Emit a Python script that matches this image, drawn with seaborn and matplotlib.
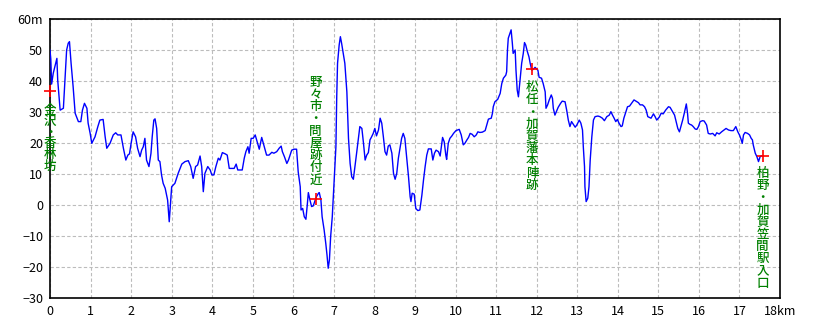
import matplotlib
matplotlib.use("Agg")
import matplotlib.pyplot as plt
import seaborn as sns
import pandas as pd

# ---- data (distance in km, elevation in m) ----
dist_km = [
    0.00, 0.02, 0.04, 0.08, 0.12, 0.17, 0.19, 0.25, 0.33, 0.37, 0.41, 0.45, 0.48, 0.52, 0.57, 0.62,
    0.70, 0.76, 0.80, 0.85, 0.91, 0.94, 0.99, 1.03, 1.11, 1.18, 1.23, 1.31, 1.36, 1.40, 1.48, 1.56,
    1.62, 1.67, 1.75, 1.81, 1.87, 1.92, 1.96, 2.00, 2.05, 2.11, 2.16, 2.22, 2.26, 2.30, 2.34, 2.38,
    2.44, 2.49, 2.52, 2.56, 2.59, 2.63, 2.67, 2.71, 2.75, 2.79, 2.84, 2.90, 2.94, 3.00, 3.08, 3.16,
    3.25, 3.33, 3.41, 3.47, 3.53, 3.59, 3.64, 3.70, 3.74, 3.78, 3.82, 3.89, 3.95, 3.99, 4.04, 4.09,
    4.15, 4.19, 4.25, 4.32, 4.37, 4.42, 4.54, 4.59, 4.63, 4.74, 4.79, 4.83, 4.88, 4.91, 4.96, 5.01,
    5.06, 5.12, 5.16, 5.22, 5.27, 5.34, 5.40, 5.47, 5.52, 5.59, 5.65, 5.70, 5.73, 5.78, 5.84, 5.88,
    5.92, 5.96, 6.02, 6.08, 6.12, 6.17, 6.19, 6.23, 6.27, 6.31, 6.34, 6.37, 6.41, 6.45, 6.49, 6.54,
    6.58, 6.62, 6.64, 6.68, 6.71, 6.76, 6.80, 6.83, 6.86, 6.89, 6.92, 6.96, 7.01, 7.05, 7.07, 7.09,
    7.13, 7.16, 7.19, 7.23, 7.27, 7.32, 7.36, 7.40, 7.44, 7.48, 7.52, 7.56, 7.60, 7.64, 7.69, 7.73,
    7.77, 7.81, 7.85, 7.89, 7.93, 7.97, 8.01, 8.05, 8.10, 8.14, 8.18, 8.22, 8.26, 8.30, 8.34, 8.38,
    8.43, 8.47, 8.51, 8.55, 8.59, 8.63, 8.67, 8.71, 8.75, 8.80, 8.84, 8.88, 8.90, 8.93, 8.98, 9.02,
    9.07, 9.12, 9.17, 9.21, 9.25, 9.29, 9.33, 9.40, 9.44, 9.48, 9.52, 9.58, 9.62, 9.66, 9.68, 9.72,
    9.76, 9.78, 9.82, 9.86, 9.91, 9.95, 10.01, 10.05, 10.09, 10.14, 10.19, 10.23, 10.28, 10.32, 10.36, 10.41,
    10.46, 10.51, 10.55, 10.60, 10.66, 10.73, 10.77, 10.81, 10.88, 10.91, 10.93, 10.97, 11.04, 11.10, 11.14, 11.18,
    11.24, 11.26, 11.28, 11.30, 11.34, 11.37, 11.40, 11.42, 11.47, 11.49, 11.52, 11.55, 11.59, 11.63, 11.67, 11.70,
    11.73, 11.77, 11.81, 11.84, 11.88, 11.92, 11.96, 12.03, 12.06, 12.12, 12.16, 12.21, 12.23, 12.27, 12.31, 12.36,
    12.39, 12.41, 12.45, 12.50, 12.53, 12.59, 12.63, 12.70, 12.74, 12.78, 12.82, 12.86, 12.90, 12.95, 12.99, 13.05,
    13.09, 13.13, 13.15, 13.18, 13.19, 13.22, 13.26, 13.29, 13.32, 13.36, 13.40, 13.44, 13.51, 13.56, 13.62, 13.67,
    13.73, 13.79, 13.83, 13.87, 13.91, 13.95, 13.99, 14.03, 14.08, 14.11, 14.15, 14.20, 14.24, 14.29, 14.35, 14.40,
    14.45, 14.51, 14.55, 14.61, 14.66, 14.70, 14.74, 14.82, 14.88, 14.92, 14.96, 15.02, 15.07, 15.12, 15.18, 15.25,
    15.29, 15.35, 15.40, 15.44, 15.48, 15.52, 15.56, 15.60, 15.64, 15.69, 15.72, 15.74, 15.78, 15.82, 15.86, 15.91,
    15.95, 15.99, 16.03, 16.09, 16.13, 16.19, 16.23, 16.28, 16.34, 16.40, 16.44, 16.50, 16.56, 16.62, 16.67, 16.73,
    16.79, 16.85, 16.91, 16.96, 17.00, 17.04, 17.07, 17.10, 17.14, 17.20, 17.25, 17.29, 17.32, 17.34, 17.39, 17.43,
    17.47, 17.51, 17.55,
]
elev_m = [
    50.0, 47.0, 39.0, 42.5, 44.6, 47.3, 40.3, 30.6, 31.2, 40.3, 50.0, 52.2, 52.7, 45.7, 38.2, 29.6,
    26.9, 26.9, 30.6, 32.8, 31.2, 26.4, 23.1, 19.9, 22.0, 25.3, 27.4, 27.6, 22.0, 18.3, 19.9, 22.6,
    23.3, 22.6, 22.6, 18.3, 14.5, 16.1, 16.5, 19.9, 23.6, 22.0, 18.3, 15.6, 17.7, 18.8, 21.5, 14.5,
    12.4, 16.7, 22.0, 27.4, 27.8, 24.7, 14.5, 14.0, 9.7, 7.0, 5.4, 1.6, -5.4, 5.9, 7.0, 10.2,
    13.2, 14.0, 14.3, 12.4, 8.6, 12.4, 12.9, 15.8, 12.4, 4.3, 10.2, 12.4, 11.3, 9.7, 9.7, 12.4,
    15.1, 14.5, 16.9, 16.5, 16.1, 11.8, 11.8, 13.2, 11.3, 11.3, 15.1, 17.2, 18.8, 16.7, 21.5, 21.5,
    22.6, 19.9, 18.0, 21.8, 19.4, 16.1, 16.1, 17.0, 16.7, 17.2, 18.3, 19.0, 17.2, 15.6, 13.4, 14.5,
    16.1, 17.7, 18.0, 18.0, 10.7, 5.9, -1.6, -1.1, -3.8, -4.6, -0.5, 4.0, 1.6, -0.5, -0.3, 1.6,
    2.9, 3.8, 4.0, 1.6, -3.8, -8.1, -12.4, -16.1, -20.4, -17.7, -10.2, -3.8, 9.1, 18.8, 34.9, 45.7,
    51.6, 54.3, 52.2, 48.9, 45.7, 36.5, 21.5, 13.4, 9.1, 8.3, 12.4, 16.7, 21.0, 25.3, 24.7, 19.9,
    14.5, 16.1, 16.9, 21.0, 22.0, 23.1, 24.7, 22.3, 24.2, 28.0, 26.4, 22.0, 17.2, 16.1, 19.0, 19.4,
    16.7, 10.2, 8.3, 10.2, 15.1, 18.3, 21.5, 23.1, 21.5, 14.5, 9.1, 2.7, 1.1, 3.8, 3.5, -1.1,
    -1.8, -1.6, 3.2, 8.1, 12.4, 16.1, 18.1, 18.1, 14.5, 16.7, 17.7, 17.2, 15.8, 19.9, 21.8, 20.4,
    16.1, 14.7, 19.9, 21.5, 22.3, 23.1, 24.0, 24.2, 24.4, 22.6, 19.4, 19.9, 21.0, 21.8, 23.1, 22.8,
    22.0, 22.6, 23.6, 23.4, 23.5, 24.0, 25.8, 27.7, 28.0, 29.6, 31.7, 33.3, 34.1, 36.0, 39.2, 40.9,
    41.9, 43.0, 50.0, 53.8, 55.4, 56.5, 52.2, 48.9, 50.0, 43.5, 37.1, 34.9, 40.3, 45.7, 48.9, 52.4,
    51.6, 49.5, 47.8, 45.7, 43.5, 43.8, 44.4, 43.5, 41.2, 40.9, 39.2, 36.5, 31.2, 32.3, 33.9, 35.5,
    34.4, 31.2, 29.0, 30.6, 31.5, 32.8, 33.5, 33.3, 30.6, 27.4, 25.3, 26.9, 26.1, 25.1, 25.8, 27.4,
    26.4, 24.2, 18.8, 12.4, 5.9, 1.1, 2.2, 5.9, 14.5, 22.0, 27.4, 28.5, 28.7, 28.5, 28.0, 27.2,
    28.5, 29.0, 30.1, 29.0, 28.0, 26.9, 27.6, 26.4, 25.3, 25.5, 28.0, 30.1, 31.7, 31.9, 33.0, 33.9,
    33.5, 33.0, 32.3, 32.3, 31.7, 30.6, 28.5, 28.0, 29.4, 28.5, 27.4, 28.3, 29.6, 29.4, 30.6, 31.7,
    31.5, 30.1, 29.0, 26.9, 24.7, 23.6, 25.5, 27.4, 29.6, 32.6, 29.6, 26.4, 26.0, 25.8, 25.3, 24.5,
    24.4, 25.3, 26.9, 27.2, 27.1, 25.8, 23.1, 22.9, 23.1, 22.3, 23.3, 22.9, 23.6, 24.2, 24.7, 24.2,
    24.0, 24.0, 25.3, 23.6, 22.6, 21.2, 19.9, 22.6, 23.4, 23.1, 22.6, 21.5, 21.0, 19.4, 16.7, 15.6,
    14.0, 15.6, 15.9,
]

place_names = ["金沢・香林坊", "野々市・問屋跡付近", "松任・加賀藩本陣跡", "柏野・加賀笠間駅入口"]
place_km = [0.0, 6.55, 11.89, 17.57]
place_elev = [36.9, 1.8, 43.8, 15.9]

x_ticks = list(range(0, 19))
x_tick_labels = [str(v) for v in range(0, 18)] + ["18km"]
y_ticks = [-30, -20, -10, 0, 10, 20, 30, 40, 50, 60]
y_tick_labels = ["−30", "−20", "−10", "0", "10", "20", "30", "40", "50", "60m"]

# ---- style ----
sns.set_style("white")
plt.rcParams["font.family"] = ["Noto Sans CJK JP", "DejaVu Sans"]

fig = plt.figure(figsize=(8.2, 3.28), dpi=100)
ax = fig.add_axes([50 / 820, 30 / 328, 730 / 820, 279 / 328])

df = pd.DataFrame({"km": dist_km, "m": elev_m})
sns.lineplot(data=df, x="km", y="m", ax=ax, color="#0000ff", linewidth=1.0,
             estimator=None, sort=False, zorder=3)

ax.set_xlim(0, 18)
ax.set_ylim(-30, 60)
ax.set_xticks(x_ticks)
ax.set_xticklabels(x_tick_labels)
ax.set_yticks(y_ticks)
ax.set_yticklabels(y_tick_labels)
ax.tick_params(axis="both", length=0, labelsize=9, colors="black", pad=5)
ax.set_xlabel("")
ax.set_ylabel("")

ax.grid(True, color="#bcbcbc", linestyle=(0, (3, 2)), linewidth=0.8)
for s in ax.spines.values():
    s.set_color("black")
    s.set_linewidth(1.2)

# markers
ax.plot(place_km, place_elev, linestyle="none", marker="+", color="#ff0000",
        markersize=9, markeredgewidth=1.2, zorder=4, clip_on=False)

# vertical labels
offsets = [(-13, "top", 0.82), (13, "bottom", 0.92), (-12, "top", 0.92), (-11, "top", 0.92)]
for name, kx, ev, (dy, va, ls) in zip(place_names, place_km, place_elev, offsets):
    ax.annotate("\n".join(name), xy=(kx, ev), xytext=(0, dy), textcoords="offset pixels",
                ha="center", va=va, color="#008000", fontsize=9, linespacing=ls,
                fontweight="medium", zorder=5, annotation_clip=False)

fig.savefig("out.png", dpi=100)
